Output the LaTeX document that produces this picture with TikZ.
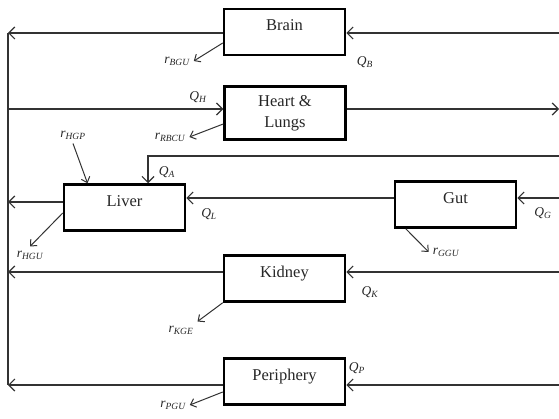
\documentclass[tikz,border=0pt]{standalone}
\usepackage{fontspec}
\setmainfont{Liberation Serif}
\usetikzlibrary{arrows.meta}
\begin{document}
\begin{tikzpicture}[x=1pt,y=-1pt,
    organ/.style={draw=black,line width=2.5pt,minimum width=121pt,minimum height=46pt,
      inner sep=2pt,align=center,text=black!85,font=\fontsize{16.5}{21}\selectfont},
    lift/.style={text height=11pt,text depth=13pt},
    flow/.style={draw=black!80,line width=1.2pt},
    into/.style={flow,-{Straight Barb[length=6pt,width=12pt]}},
    rate/.style={flow,line width=1pt,-{Straight Barb[length=5pt,width=9pt]}},
    lbl/.style={inner sep=4pt,text=black!85,font=\fontsize{13.5}{15}\selectfont\itshape}]
    \useasboundingbox (0,0) rectangle (559,419);
    % compartments
    \node[organ,lift] (brain)  at (284.5,32)    {Brain};
    \node[organ,minimum height=53pt] (heart) at (285,113) {Heart \&\\Lungs};
    \node[organ,lift] (liver)  at (124.5,207.5) {Liver};
    \node[organ,lift] (gut)    at (455.5,204.5) {Gut};
    \node[organ,lift] (kidney) at (284.5,278.5) {Kidney};
    \node[organ,lift] (periph) at (284.5,381.5) {Periphery};
    % venous return line
    \coordinate (top) at (8,33);
    \coordinate (bot) at (8,385);
    \draw[flow] (top) -- (bot);
    \foreach \n/\y in {brain/33,liver/202,kidney/272,periph/385} {
        \coordinate (l\n) at (8,\y);
        \draw[into] (l\n -| \n.west) -- (l\n);
    }
    \foreach \n/\y in {brain/33,gut/198,kidney/272,periph/385} {
        \coordinate (r\n) at (559,\y);
        \draw[into] (r\n) -- (r\n -| \n.east);
    }
    \coordinate (lheart) at (8,109);
    \coordinate (rheart) at (559,109);
    \draw[into] (lheart) -- (lheart -| heart.west);
    \draw[into] (rheart -| heart.east) -- (rheart);
    \coordinate (rart) at (559,156);
    \draw[into] (rart) -| ([xshift=23.5pt]liver.north);
    \draw[into] ([yshift=6.5pt]gut.west) -- ([yshift=6.5pt]gut.west -| liver.east);
    % flows
    \node[lbl] (QB) at (365,62)  {Q\textsubscript{B}};
    \node[lbl] (QH) at (198,97)  {Q\textsubscript{H}};
    \node[lbl] (QA) at (167,172) {Q\textsubscript{A}};
    \node[lbl] (QL) at (209,214) {Q\textsubscript{L}};
    \node[lbl] (QG) at (543,213) {Q\textsubscript{G}};
    \node[lbl] (QK) at (370,292) {Q\textsubscript{K}};
    \node[lbl] (QP) at (357,368) {Q\textsubscript{P}};
    % uptake and production rates
    \node[lbl] (rBGU)  at (177,61)  {r\textsubscript{BGU}};
    \node[lbl] (rRBCU) at (170,137) {r\textsubscript{RBCU}};
    \node[lbl] (rHGP)  at (73,135)  {r\textsubscript{HGP}};
    \node[lbl] (rHGU)  at (30,255)  {r\textsubscript{HGU}};
    \node[lbl] (rGGU)  at (446,252) {r\textsubscript{GGU}};
    \node[lbl] (rKGE)  at (181,330) {r\textsubscript{KGE}};
    \node[lbl] (rPGU)  at (173,405) {r\textsubscript{PGU}};
    \draw[rate] ([yshift=-11pt]brain.west) -- (rBGU.east);
    \draw[rate] ([yshift=-11pt]heart.west) -- (rRBCU.east);
    \draw[rate] (rHGP.south) -- ([xshift=-37pt]liver.north);
    \draw[rate] ([yshift=-5.5pt]liver.west) -- (rHGU.north);
    \draw[rate] ([xshift=12pt]gut.south west) -- (rGGU.west);
    \draw[rate] (kidney.south west) -- (rKGE.north east);
    \draw[rate] ([yshift=-10.5pt]periph.west) -- (rPGU.east);
\end{tikzpicture}
\end{document}
